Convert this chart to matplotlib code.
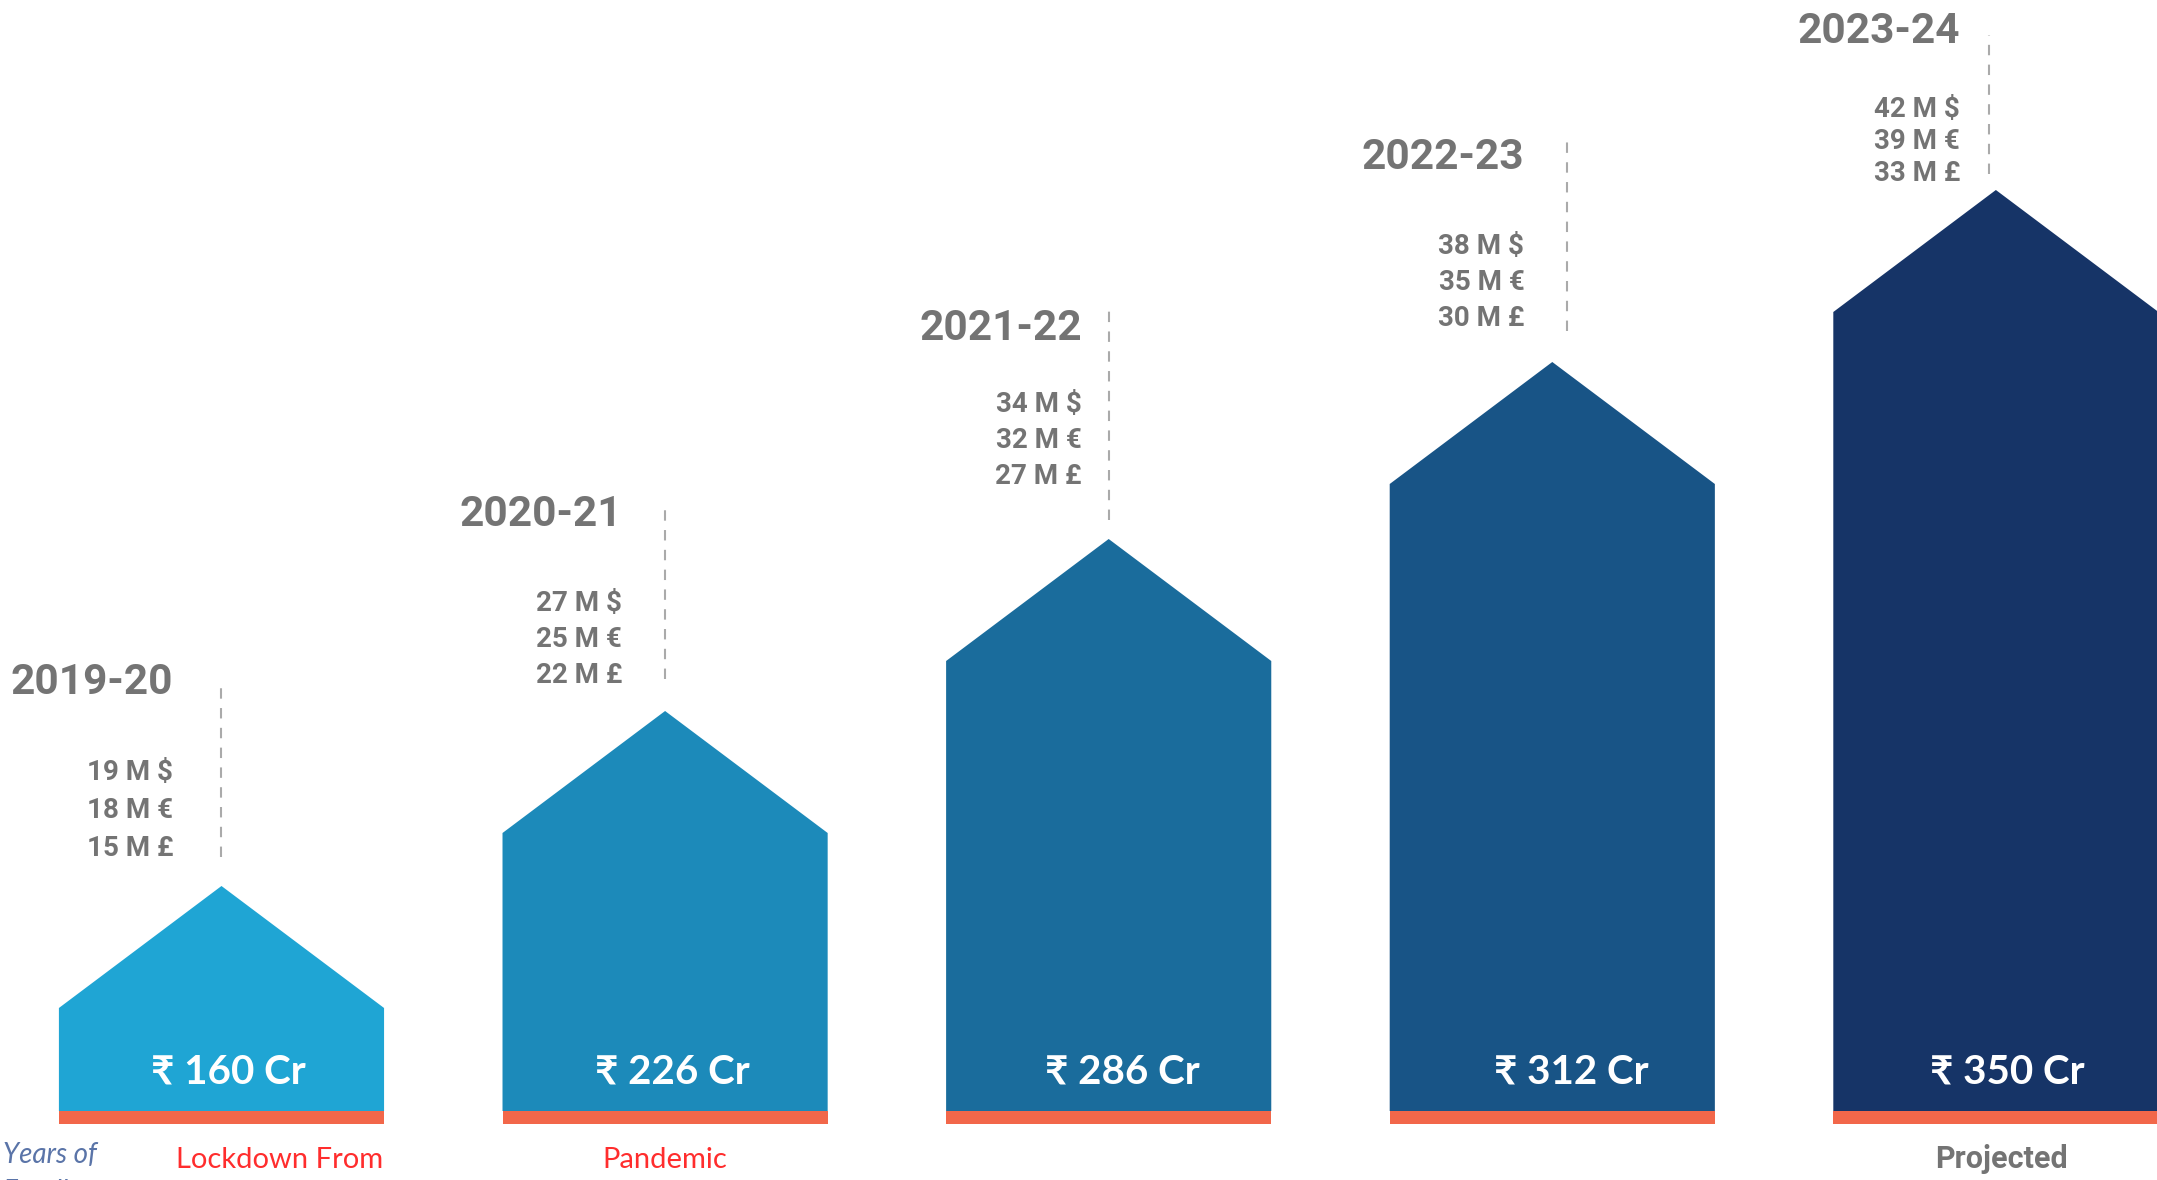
#!/usr/bin/env python3
"""Revenue growth chart drawn as house-shaped bars, one per financial year."""
import matplotlib.pyplot as plt

# data
years = ["2019-20", "2020-21", "2021-22", "2022-23", "2023-24"]
revenue_cr = [160, 226, 286, 312, 350]
usd_m = [19, 27, 34, 38, 42]
eur_m = [18, 25, 32, 35, 39]
gbp_m = [15, 22, 27, 30, 33]
notes = ["Lockdown From", "Pandemic", "", "", "Projected"]
# bar (shoulder) heights as drawn, in pixel-like units above the base line
bar_height = [103, 278, 450, 627, 799]

# layout / styling
ROOF = 122
WIDTH = 0.733
BAND = 13
colors = ["#1fa5d4", "#1c8aba", "#1a6c9c", "#185486", "#163467"]
orange = "#f2674a"
grey = "#747474"
red = "#ff2d2d"
year_lift = [192, 185, 199, 193, 147]
cur_lift = [106, 100, 127, 108, 73]
cur_step = [38, 36, 36, 36, 32]
line_top = [205, 210, 229, 223, 155]
line_bot = [29, 32, 19, 31, 16]
text_dx = [-0.109, -0.097, -0.061, -0.063, -0.081]
line_dx = [0.0, 0.0, 0.0, 0.034, -0.016]
value_dx = [0.016, 0.016, 0.03, 0.043, 0.025]
note_dx = [0.13, 0.0, 0.0, 0.0, 0.013]


def main(out_path="out.png"):
    fig = plt.figure(figsize=(21.57, 11.80), dpi=100)
    ax = fig.add_axes([0, 0, 1, 1])
    ax.set_xlim(-0.4993, 4.3632)
    ax.set_ylim(-69, 1111)
    ax.axis("off")

    xs = list(range(len(years)))
    for i, x in enumerate(xs):
        h = bar_height[i]
        peak = h + ROOF
        left, right = x - WIDTH / 2, x + WIDTH / 2
        ax.fill([left, left, x, right, right], [0, h, peak, h, 0],
                color=colors[i], lw=0, zorder=2)

        # dashed leader line and labels above the roof
        lx = x + line_dx[i]
        ax.plot([lx, lx], [peak + line_bot[i], peak + line_top[i]],
                color="#aaaaaa", lw=1.5, dashes=(5, 4.5), zorder=1)
        tx = x + text_dx[i]
        ax.text(tx, peak + year_lift[i], years[i], ha="right", va="baseline",
                fontsize=30.5, fontweight="bold", family="Roboto", color=grey)
        cur = [f"{usd_m[i]} M $", f"{eur_m[i]} M €", f"{gbp_m[i]} M £"]
        for k, s in enumerate(cur):
            ax.text(tx, peak + cur_lift[i] - k * cur_step[i], s, ha="right",
                    va="baseline", fontsize=20, fontweight="bold",
                    family="Roboto", color=grey)

        ax.text(x + value_dx[i], 27, f"₹ {revenue_cr[i]} Cr", ha="center",
                va="baseline", fontsize=29, fontweight="bold",
                family=["Lato", "DejaVu Sans"], color="white", zorder=3)

    ax.bar(xs, [BAND] * len(xs), bottom=-BAND, width=WIDTH, color=orange,
           lw=0, zorder=2)

    # notes below the bars
    for i, x in enumerate(xs):
        if not notes[i]:
            continue
        if notes[i] == "Projected":
            ax.text(x + note_dx[i], -57, notes[i], ha="center", va="baseline",
                    fontsize=22, fontweight="bold", family="Roboto", color=grey)
        else:
            ax.text(x + note_dx[i], -57, notes[i], ha="center", va="baseline",
                    fontsize=21, fontweight="normal", family="Lato", color=red)

    ax.text(-0.4925, -52, "Years of", ha="left", va="baseline",
            fontsize=20, fontstyle="italic", family="Lato", color="#5a74a8")
    ax.text(-0.4925, -89, "Excellence", ha="left", va="baseline",
            fontsize=20, fontstyle="italic", family="Lato", color="#5a74a8")

    fig.savefig(out_path, dpi=100)


if __name__ == "__main__":
    main()
